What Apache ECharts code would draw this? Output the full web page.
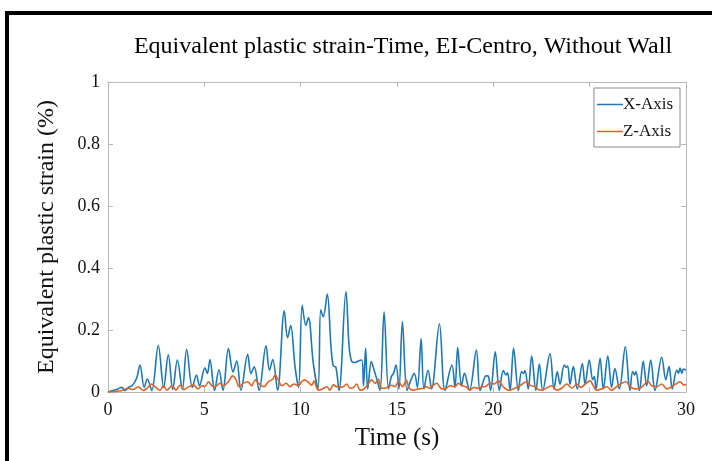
<!DOCTYPE html>
<html>
<head>
<meta charset="utf-8">
<script src="https://cdn.jsdelivr.net/npm/echarts@6/dist/echarts.min.js"></script>
<style>
  html, body { margin: 0; padding: 0; background: #fff; }
  #chart { width: 712px; height: 461px; }
</style>
</head>
<body>
<div id="chart"></div>
<script>
// X-Axis strain (%) over time (s)
const timeX = [0, 0.26, 0.52, 0.71, 0.88, 1.09, 1.25, 1.49, 1.66, 1.88, 2.04, 2.27, 2.61, 2.89, 3.13, 3.36, 3.6, 3.86, 4.08, 4.38,
  4.59, 4.75, 5.03, 5.16, 5.29, 5.53, 5.76, 5.97, 6.25, 6.49, 6.68, 6.9, 7.25, 7.42, 7.59, 7.84, 8.2, 8.38, 8.55, 8.8,
  9.15, 9.32, 9.48, 9.71, 9.89, 10.08, 10.27, 10.4, 10.66, 10.9, 11.04, 11.17, 11.38, 11.57, 11.69, 11.83, 11.99, 12.35, 12.51, 12.64,
  12.82, 12.99, 13.17, 13.26, 13.37, 13.48, 13.67, 13.81, 13.96, 14.12, 14.33, 14.56, 14.71, 14.82, 14.95, 15.1, 15.28, 15.52, 15.73, 15.9,
  16.06, 16.25, 16.4, 16.61, 16.79, 17.2, 17.49, 17.85, 18.01, 18.15, 18.35, 18.5, 18.76, 19.12, 19.31, 19.57, 19.66, 19.75, 19.86, 20.1,
  20.31, 20.52, 20.66, 20.74, 20.87, 21.05, 21.3, 21.47, 21.57, 21.64, 21.81, 21.99, 22.21, 22.39, 22.56, 22.94, 23.15, 23.32, 23.46, 23.68,
  23.77, 23.86, 23.98, 24.15, 24.36, 24.62, 24.76, 24.98, 25.16, 25.24, 25.33, 25.54, 25.71, 25.94, 26.14, 26.31, 26.54, 26.85, 27.09, 27.23,
  27.33, 27.4, 27.58, 27.78, 27.96, 28.17, 28.39, 28.74, 28.95, 29.12, 29.29, 29.52, 29.61, 29.69, 29.79, 29.86, 30];
const strainX = [0, 0.005, 0.01, 0.015, 0.005, 0.016, 0.02, 0.045, 0.087, 0.015, 0.042, 0.005, 0.15, 0.015, 0.12, 0.008, 0.103, 0.008, 0.137, 0.015,
  0.055, 0.02, 0.078, 0.06, 0.105, 0.005, 0.072, 0.005, 0.14, 0.065, 0.1, 0.005, 0.121, 0.06, 0.081, 0.005, 0.149, 0.07, 0.105, 0.005,
  0.262, 0.175, 0.214, 0.08, 0.015, 0.28, 0.215, 0.24, 0.09, 0.01, 0.265, 0.243, 0.316, 0.15, 0.085, 0.08, 0.005, 0.324, 0.15, 0.1,
  0.095, 0.1, 0.103, 0.02, 0.141, 0.01, 0.098, 0.07, 0.04, 0.005, 0.259, 0.01, 0.05, 0.06, 0.087, 0.01, 0.227, 0.005, 0.04, 0.06,
  0.015, 0.172, 0.01, 0.07, 0.01, 0.22, 0.005, 0.087, 0.015, 0.143, 0.02, 0.06, 0.005, 0.135, 0.005, 0.05, 0.052, 0.05, 0.005, 0.13,
  0.005, 0.069, 0.055, 0.062, 0.005, 0.141, 0.005, 0.066, 0.06, 0.069, 0.01, 0.116, 0.005, 0.09, 0.005, 0.123, 0.01, 0.066, 0.025, 0.087,
  0.08, 0.084, 0.025, 0.082, 0.01, 0.092, 0.025, 0.103, 0.04, 0.05, 0.01, 0.109, 0.01, 0.116, 0.015, 0.076, 0.01, 0.146, 0.005, 0.066,
  0.055, 0.066, 0.005, 0.1, 0.02, 0.103, 0.005, 0.112, 0.04, 0.082, 0.01, 0.071, 0.06, 0.077, 0.06, 0.074, 0.07];

// Z-Axis strain (%) over time (s)
const timeZ = [0, 0.36, 0.73, 1.04, 1.3, 1.57, 1.82, 2.02, 2.27, 2.44, 2.7, 2.87, 3.06, 3.31, 3.53, 3.74, 3.94, 4.15, 4.43, 4.67,
  4.88, 5.03, 5.21, 5.4, 5.55, 5.81, 5.98, 6.24, 6.47, 6.64, 6.81, 7.02, 7.25, 7.46, 7.63, 7.85, 8.1, 8.32, 8.55, 8.67,
  8.84, 9.02, 9.24, 9.45, 9.65, 9.88, 10.05, 10.19, 10.37, 10.57, 10.69, 10.92, 11.17, 11.35, 11.52, 11.69, 11.87, 12.04, 12.21, 12.39,
  12.56, 12.73, 12.91, 13.08, 13.25, 13.43, 13.69, 13.86, 14.03, 14.21, 14.38, 14.55, 14.72, 14.9, 15.07, 15.3, 15.47, 15.64, 15.85, 16.11,
  16.36, 16.54, 16.71, 16.88, 17.06, 17.32, 17.49, 17.75, 18.01, 18.18, 18.37, 18.58, 18.79, 19, 19.2, 19.41, 19.57, 19.83, 20.05, 20.26,
  20.52, 20.78, 21.04, 21.38, 21.73, 21.9, 22.16, 22.42, 22.68, 23.03, 23.29, 23.55, 23.81, 24.07, 24.33, 24.55, 24.76, 25.02, 25.19, 25.36,
  25.62, 25.88, 26.14, 26.4, 26.66, 26.89, 27.09, 27.35, 27.61, 27.87, 28.04, 28.22, 28.48, 28.74, 29, 29.26, 29.52, 29.69, 29.9, 30];
const strainZ = [0, 0.002, 0.005, 0.012, 0.008, 0.017, 0.005, 0.012, 0.026, 0.017, 0.005, 0.02, 0.006, 0.02, 0.006, 0.022, 0.008, 0.015, 0.023, 0.01,
  0.02, 0.018, 0.033, 0.02, 0.017, 0.028, 0.02, 0.033, 0.052, 0.04, 0.017, 0.028, 0.033, 0.02, 0.039, 0.026, 0.017, 0.033, 0.041, 0.055,
  0.039, 0.02, 0.028, 0.017, 0.026, 0.02, 0.033, 0.039, 0.033, 0.022, 0.035, 0.006, 0.011, 0.017, 0.006, 0.023, 0.017, 0.015, 0.017, 0.026,
  0.012, 0.014, 0.026, 0.006, 0.008, 0.02, 0.039, 0.028, 0.041, 0.012, 0.012, 0.017, 0.022, 0.017, 0.033, 0.017, 0.039, 0.012, 0.006, 0.01,
  0.012, 0.017, 0.012, 0.022, 0.028, 0.01, 0.01, 0.02, 0.017, 0.028, 0.02, 0.017, 0.006, 0.015, 0.012, 0.017, 0.017, 0.028, 0.026, 0.036,
  0.017, 0.006, 0.01, 0.02, 0.033, 0.022, 0.017, 0.006, 0.01, 0.02, 0.006, 0.012, 0.026, 0.012, 0.026, 0.015, 0.025, 0.036, 0.02, 0.006,
  0.01, 0.017, 0.006, 0.017, 0.028, 0.033, 0.017, 0.01, 0.012, 0.026, 0.033, 0.02, 0.017, 0.026, 0.01, 0.017, 0.028, 0.033, 0.022, 0.025];

const seriesNames = ["X-Axis", "Z-Axis"];
const xTicks = [0, 30, 5];
const yTicks = [0, 1, 0.2];

const serif = "Liberation Serif";
const axisGray = "#b8b8b8";

const myChart = echarts.init(document.getElementById("chart"));

const boxAxis = (extra) => ({
  type: "value",
  axisLine: { show: true, onZero: false, lineStyle: { color: axisGray, width: 1 } },
  axisTick: { show: true, inside: true, length: 5, lineStyle: { color: axisGray } },
  splitLine: { show: false },
  ...extra,
});

myChart.setOption({
  animation: false,
  backgroundColor: "#fff",
  title: {
    text: "Equivalent plastic strain-Time, EI-Centro, Without Wall",
    left: 398,
    textAlign: "center",
    top: 30,
    textStyle: { fontFamily: serif, fontSize: 24, fontWeight: "normal", color: "#000" },
  },
  legend: {
    data: seriesNames,
    orient: "vertical",
    right: 32,
    top: 88,
    icon: "rect",
    backgroundColor: "#fff",
    borderColor: "#8a8a8a",
    borderWidth: 1,
    borderRadius: 0,
    padding: [8, 7, 7, 3],
    itemGap: 10,
    itemWidth: 26,
    itemHeight: 1.5,
    textStyle: { fontFamily: serif, fontSize: 17, color: "#111", padding: [0, 0, 0, -5] },
  },
  grid: { left: 108, right: 26, top: 82, bottom: 69 },
  xAxis: [
    boxAxis({
      min: xTicks[0], max: xTicks[1], interval: xTicks[2],
      name: "Time (s)",
      nameLocation: "middle",
      nameGap: 34,
      nameTextStyle: { fontFamily: serif, fontSize: 25, color: "#111" },
      axisLabel: { margin: 9, fontFamily: serif, fontSize: 18, color: "#111" },
    }),
    boxAxis({
      position: "top",
      min: xTicks[0], max: xTicks[1], interval: xTicks[2],
      axisLabel: { show: false },
    }),
  ],
  yAxis: [
    boxAxis({
      min: yTicks[0], max: yTicks[1], interval: yTicks[2],
      name: "Equivalent plastic strain (%)",
      nameLocation: "middle",
      nameGap: 49,
      nameTextStyle: { fontFamily: serif, fontSize: 24, color: "#111" },
      axisLabel: { margin: 8, fontFamily: serif, fontSize: 18, color: "#111" },
    }),
    boxAxis({
      position: "right",
      min: yTicks[0], max: yTicks[1], interval: yTicks[2],
      axisLabel: { show: false },
    }),
  ],
  series: [
    {
      name: seriesNames[0],
      type: "line",
      data: timeX.map((t, i) => [t, strainX[i]]),
      color: "#1f77b4",
    },
    {
      name: seriesNames[1],
      type: "line",
      data: timeZ.map((t, i) => [t, strainZ[i]]),
      color: "#d9642a",
    },
  ].map((obj) => ({
    ...obj,
    symbol: "none",
    smooth: 0.35,
    lineStyle: { width: 1.6, color: obj.color },
  })),
  graphic: [
    {
      type: "rect",
      shape: { x: 7, y: 13, width: 710, height: 455 },
      style: { fill: "none", stroke: "#000", lineWidth: 4 },
      z: 100,
    },
  ],
});
</script>
</body>
</html>
